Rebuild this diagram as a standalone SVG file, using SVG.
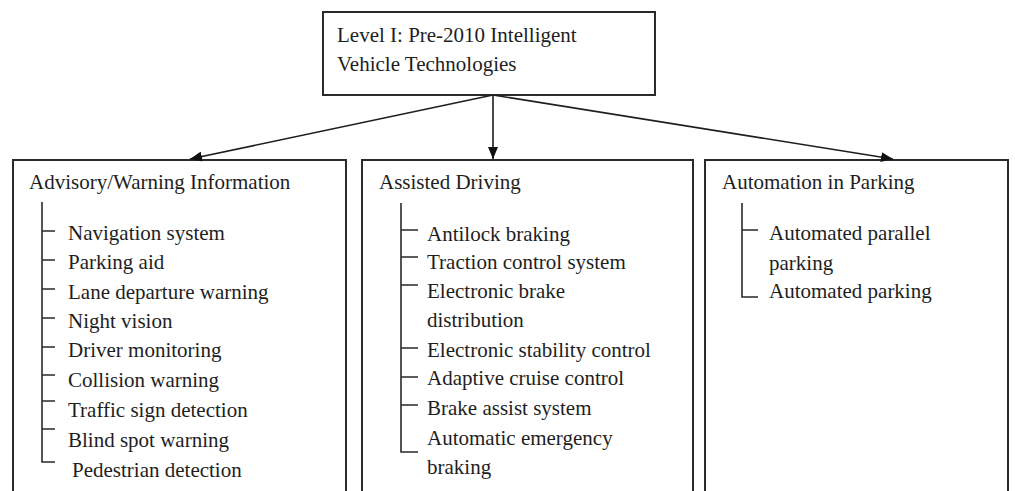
<svg xmlns="http://www.w3.org/2000/svg" width="1015" height="491" viewBox="0 0 1015 491">
  <style>
    .box { fill: #ffffff; stroke: #2a2a2a; stroke-width: 2; }
    .t { font-family: "Liberation Serif", "Times New Roman", serif; font-size: 21px; fill: #1e1e1e; }
    .tree { fill: none; stroke: #2a2a2a; stroke-width: 1.6; }
    .conn { fill: none; stroke: #1e1e1e; stroke-width: 1.6; }
  </style>
  <defs>
    <marker id="arrow" viewBox="0 0 12 10" refX="12" refY="5" markerWidth="12" markerHeight="10" markerUnits="userSpaceOnUse" orient="auto">
      <path d="M0,0 L12,5 L0,10 Z" fill="#111"/>
    </marker>
  </defs>
  <rect width="1015" height="491" fill="#ffffff"/>

  <g id="root">
    <rect class="box" x="323" y="12" width="332" height="83"/>
    <text class="t" x="337" y="42">Level I: Pre-2010 Intelligent</text>
    <text class="t" x="337" y="71">Vehicle Technologies</text>
  </g>

  <g id="advisory">
    <rect class="box" x="13" y="160" width="333" height="345"/>
    <text class="t" x="29" y="189">Advisory/Warning Information</text>
    <path class="tree" d="M42,202 V462 H55 M42,231 H55 M42,260 H55 M42,289 H55 M42,318 H55 M42,347 H55 M42,375 H55 M42,401 H55 M42,429 H55"/>
    <text class="t" x="68" y="240">Navigation system</text>
    <text class="t" x="68" y="269">Parking aid</text>
    <text class="t" x="68" y="299">Lane departure warning</text>
    <text class="t" x="68" y="328">Night vision</text>
    <text class="t" x="68" y="357">Driver monitoring</text>
    <text class="t" x="68" y="387">Collision warning</text>
    <text class="t" x="68" y="417">Traffic sign detection</text>
    <text class="t" x="68" y="447">Blind spot warning</text>
    <text class="t" x="72" y="477">Pedestrian detection</text>
  </g>

  <g id="assisted">
    <rect class="box" x="362" y="160" width="331" height="345"/>
    <text class="t" x="379" y="189">Assisted Driving</text>
    <path class="tree" d="M401,203 V452 H418 M401,230 H418 M401,257 H418 M401,285 H418 M401,348 H418 M401,377 H418 M401,405 H418"/>
    <text class="t" x="427" y="241">Antilock braking</text>
    <text class="t" x="427" y="269">Traction control system</text>
    <text class="t" x="427" y="298">Electronic brake</text>
    <text class="t" x="427" y="327">distribution</text>
    <text class="t" x="427" y="357">Electronic stability control</text>
    <text class="t" x="427" y="385">Adaptive cruise control</text>
    <text class="t" x="427" y="415">Brake assist system</text>
    <text class="t" x="427" y="445">Automatic emergency</text>
    <text class="t" x="427" y="474">braking</text>
  </g>

  <g id="parking">
    <rect class="box" x="705" y="160" width="303" height="345"/>
    <text class="t" x="722" y="189">Automation in Parking</text>
    <path class="tree" d="M742,203 V297 H758 M742,230 H758"/>
    <text class="t" x="769" y="240">Automated parallel</text>
    <text class="t" x="769" y="270">parking</text>
    <text class="t" x="769" y="298">Automated parking</text>
  </g>

  <g id="connectors">
    <line class="conn" x1="493" y1="95" x2="190" y2="159" marker-end="url(#arrow)"/>
    <line class="conn" x1="493" y1="95" x2="493" y2="159" marker-end="url(#arrow)"/>
    <line class="conn" x1="493" y1="95" x2="893" y2="159" marker-end="url(#arrow)"/>
  </g>
</svg>
